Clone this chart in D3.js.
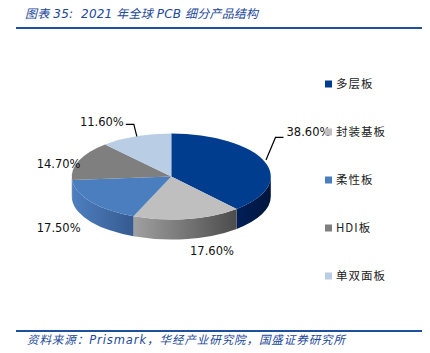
<!DOCTYPE html>
<html>
<head>
<meta charset="utf-8">
<script src="https://cdn.jsdelivr.net/npm/d3@7"></script>
<style>
  body { margin: 0; background: #fff; }
  svg { display: block; }
</style>
</head>
<body>
<div id="chart"></div>
<script>
const categories = ["多层板", "封装基板", "柔性板", "HDI板", "单双面板"];
const shares = [38.6, 17.6, 17.5, 14.7, 11.6];
const labels = ["38.60%", "17.60%", "17.50%", "14.70%", "11.60%"];

const topColors = ["#003d8f", "#bfbfbf", "#4a7ebf", "#7f7f7f", "#b9cde5"];
const sideLight = ["#002058", "#a0a0a0", "#4e7fc0", "#6a6a6a", "#9db4d2"];
const sideDark = ["#00153c", "#4c4c4c", "#365a90", "#4a4a4a", "#7f98b8"];

const width = 430, height = 353;
const cx = 171.3, cy = 176.5, rx = 99.5, ry = 43, depth = 20;

// label offsets from the slice's edge point (dx, dy), leader flag
const labelLayout = [
  { dx: 44, dy: -29, leader: true },
  { dx: 24.5, dy: 32, leader: false },
  { dx: -32.3, dy: 26, leader: false },
  { dx: -20.3, dy: 3.5, leader: false },
  { dx: -34, dy: -14, leader: true }
];

const svg = d3.select("#chart")
  .append("svg")
  .attr("width", width)
  .attr("height", height);

const blue = "#21479a";

// title + rules
svg.append("text")
  .attr("x", 25)
  .attr("y", 18)
  .attr("fill", blue)
  .attr("textLength", 233)
  .attr("lengthAdjust", "spacing")
  .style("font-family", "'DejaVu Sans', 'Noto Sans CJK SC', sans-serif")
  .style("font-style", "italic")
  .style("font-size", "12px")
  .style("white-space", "pre")
  .text("图表 35:  2021 年全球 PCB 细分产品结构");

svg.append("line")
  .attr("x1", 16).attr("x2", 422)
  .attr("y1", 28).attr("y2", 28)
  .attr("stroke", "#1f4f9f")
  .attr("stroke-width", 2);

svg.append("line")
  .attr("x1", 16).attr("x2", 422)
  .attr("y1", 331).attr("y2", 331)
  .attr("stroke", "#1f4f9f")
  .attr("stroke-width", 2);

svg.append("text")
  .attr("x", 27)
  .attr("y", 344)
  .attr("fill", blue)
  .attr("textLength", 318)
  .attr("lengthAdjust", "spacing")
  .style("font-family", "'DejaVu Sans', 'Noto Sans CJK SC', sans-serif")
  .style("font-style", "italic")
  .style("font-size", "11.5px")
  .text("资料来源：Prismark，华经产业研究院，国盛证券研究所");

// pie angles (clockwise from 12 o'clock)
const pie = d3.pie().sort(null).value(d => d)(shares);

const px = a => cx + rx * Math.sin(a);
const py = a => cy - ry * Math.cos(a);

const defs = svg.append("defs");
categories.forEach((c, i) => {
  const g = defs.append("linearGradient")
    .attr("id", "side" + i)
    .attr("x1", "0%").attr("x2", "100%")
    .attr("y1", "0%").attr("y2", "0%");
  g.append("stop").attr("offset", "0%").attr("stop-color", sideLight[i]);
  g.append("stop").attr("offset", "100%").attr("stop-color", sideDark[i]);
});

// side walls (front half only)
const sides = svg.append("g");
pie.forEach((d, i) => {
  const s = Math.max(d.startAngle, Math.PI / 2);
  const e = Math.min(d.endAngle, Math.PI * 3 / 2);
  if (e <= s) return;
  const path = `M${px(s)},${py(s)}` +
    `A${rx},${ry} 0 0 1 ${px(e)},${py(e)}` +
    `L${px(e)},${py(e) + depth}` +
    `A${rx},${ry} 0 0 0 ${px(s)},${py(s) + depth}Z`;
  sides.append("path")
    .attr("d", path)
    .attr("fill", `url(#side${i})`);
});

// top faces
const tops = svg.append("g");
pie.forEach((d, i) => {
  const a0 = d.startAngle, a1 = d.endAngle;
  const large = a1 - a0 > Math.PI ? 1 : 0;
  const path = `M${cx},${cy}L${px(a0)},${py(a0)}` +
    `A${rx},${ry} 0 ${large} 1 ${px(a1)},${py(a1)}Z`;
  tops.append("path")
    .attr("d", path)
    .attr("fill", topColors[i]);
});

// data labels
const lbl = svg.append("g")
  .style("font-family", "'DejaVu Sans', sans-serif")
  .style("font-size", "11.5px")
  .attr("fill", "#111");

pie.forEach((d, i) => {
  const mid = (d.startAngle + d.endAngle) / 2;
  const ex = px(mid), ey = py(mid);
  const lay = labelLayout[i];
  const tx = ex + lay.dx, ty = ey + lay.dy;
  if (lay.leader) {
    const pts = lay.dx > 0
      ? [[ex + 1.5, ey - 1.5], [tx - 33, ty + 5], [tx - 25, ty + 5]]
      : [[ex + 1, ey], [tx + 32, ty + 2], [tx + 24, ty + 2]];
    lbl.append("path")
      .attr("d", d3.line()(pts))
      .attr("fill", "none")
      .attr("stroke", "#000")
      .attr("stroke-width", 1.2);
  }
  lbl.append("text")
    .attr("x", tx)
    .attr("y", ty)
    .attr("dy", "0.35em")
    .attr("text-anchor", "middle")
    .text(labels[i]);
});

// legend
const legend = svg.append("g")
  .style("font-family", "'Noto Sans CJK SC', sans-serif")
  .style("font-size", "11.5px");

const legendY = d3.scalePoint()
  .domain(categories)
  .range([84, 276]);

categories.forEach((c, i) => {
  const y = legendY(c);
  legend.append("rect")
    .attr("x", 325)
    .attr("y", y - 3.5)
    .attr("width", 7)
    .attr("height", 7)
    .attr("fill", topColors[i]);
  legend.append("text")
    .attr("x", 336)
    .attr("y", y)
    .attr("dy", "0.35em")
    .attr("fill", "#222")
    .style("letter-spacing", "1px")
    .text(c);
});
</script>
</body>
</html>
